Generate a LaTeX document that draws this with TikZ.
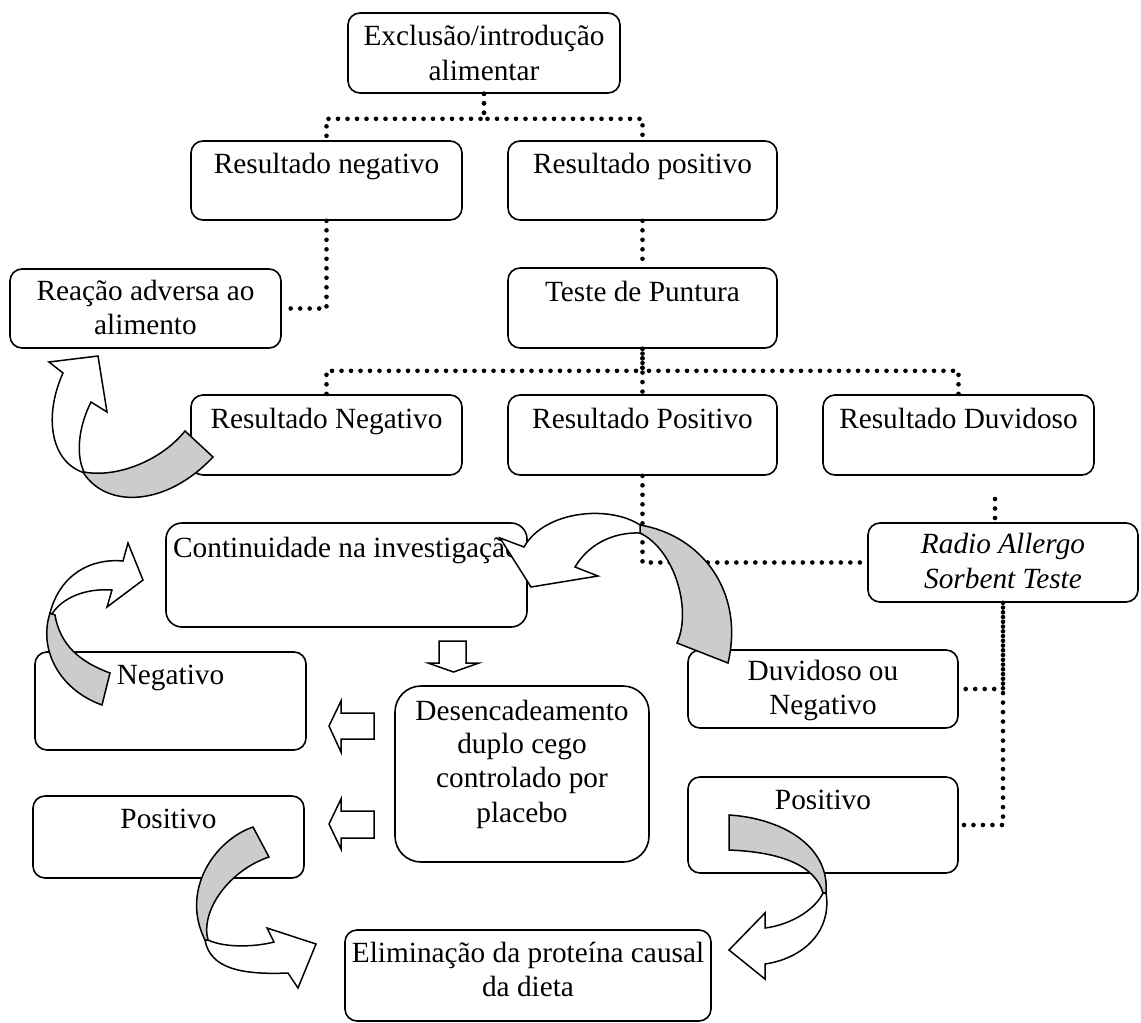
\documentclass[tikz,border=0pt]{standalone}
\usepackage{fontspec}
\setmainfont{Liberation Serif}
\definecolor{ribbon}{RGB}{204,204,204}
\newcommand{\lbl}[4]{\node[txt] (#1) at (#2,#3) {#4};}
\begin{document}
\begin{tikzpicture}[x=1pt,y=-1pt,
  box/.style={draw, line width=1.6pt, rounded corners=12pt, inner sep=0pt},
  txt/.style={anchor=base, inner sep=0pt, font=\fontsize{29.3}{34}\selectfont},
  dots/.style={line width=4.6pt, line cap=round, dash pattern=on 0pt off 9.5pt},
  arrw/.style={draw, line width=1.5pt, fill=white, line join=miter},
  arrg/.style={draw, line width=1.5pt, fill=ribbon, line join=miter},
]
\useasboundingbox (0,0) rectangle (1141,1023);

% boxes
\node[box, minimum width=272pt, minimum height=80pt] (excl) at (484,53) {};
\node[box, minimum width=271pt, minimum height=79pt] (rneg) at (326.5,180.5) {};
\node[box, minimum width=269pt, minimum height=79pt] (rpos) at (642.5,180.5) {};
\node[box, minimum width=271pt, minimum height=79pt] (reac) at (145.5,308.5) {};
\node[box, minimum width=269pt, minimum height=80pt] (teste) at (642.5,308) {};
\node[box, minimum width=271pt, minimum height=80pt] (rNeg) at (326.5,435) {};
\node[box, minimum width=269pt, minimum height=80pt] (rPos) at (642.5,435) {};
\node[box, minimum width=271pt, minimum height=80pt] (rDuv) at (958.5,435) {};
\node[box, rounded corners=16pt, minimum width=361pt, minimum height=104pt] (cont) at (346.5,575) {};
\node[box, minimum width=270pt, minimum height=79pt] (rast) at (1003,562.5) {};
\node[box, minimum width=271pt, minimum height=98pt] (negL) at (170.5,701) {};
\node[box, minimum width=271pt, minimum height=82pt] (posL) at (168.5,837) {};
\node[box, rounded corners=26pt, minimum width=254pt, minimum height=176pt] (des) at (522,774) {};
\node[box, minimum width=270pt, minimum height=78pt] (dneg) at (823,689) {};
\node[box, minimum width=270pt, minimum height=96pt] (posR) at (823,825) {};
\node[box, minimum width=366pt, minimum height=91pt] (elim) at (528,975.5) {};

% texts
\lbl{t1a}{484}{45}{Exclusão/introdução}
\lbl{t1b}{484}{80}{alimentar}
\lbl{t2}{326.5}{173}{Resultado negativo}
\lbl{t3}{642.5}{173}{Resultado positivo}
\lbl{t4a}{145.5}{300}{Reação adversa ao}
\lbl{t4b}{145.5}{334}{alimento}
\lbl{t5}{642.5}{301}{Teste de Puntura}
\lbl{t6}{326.5}{428}{Resultado Negativo}
\lbl{t7}{642.5}{428}{Resultado Positivo}
\lbl{t8}{958.5}{428}{Resultado Duvidoso}
\node[txt, anchor=base west] (t9) at (173,557) {Continuidade na investigação};
\lbl{t10a}{1003}{553}{\itshape Radio Allergo}
\lbl{t10b}{1003}{588}{\itshape Sorbent Teste}
\lbl{t11}{170.5}{684}{Negativo}
\lbl{t12}{168.5}{828}{Positivo}
\lbl{t13a}{522}{720}{Desencadeamento}
\lbl{t13b}{522}{753}{duplo cego}
\lbl{t13c}{522}{787}{controlado por}
\lbl{t13d}{522}{822}{placebo}
\lbl{t14a}{823}{680}{Duvidoso ou}
\lbl{t14b}{823}{714}{Negativo}
\lbl{t15}{823}{809}{Positivo}
\lbl{t16a}{528}{962}{Eliminação da proteína causal}
\lbl{t16b}{528}{996}{da dieta}

% dotted connectors
\draw[dots] (excl.south) -- ++(0,25) -| (rneg.north);
\draw[dots] (excl.south) -- ++(0,25) -| (rpos.north);
\draw[dots] (rneg.south) |- (reac.east);
\draw[dots] (rpos.south) -- (teste.north);
\draw[dots] (teste.south) -- ++(0,22) -| (rNeg.north);
\draw[dots] (teste.south) -- ++(0,22) -| (rDuv.north);
\draw[dots, dash phase=4.75pt] (teste.south) -- (rPos.north);
\draw[dots] (rPos.south) |- (rast.west);
\coordinate (q1) at (995,499);
\coordinate (q2) at (995,519);
\draw[dots] (q1) -- (q2);
\draw[dots] (rast.south) |- (dneg.east);
\draw[dots, dash phase=4.75pt] (rast.south) |- (posR.east);

% straight block arrows
\draw[arrw] (439,641) -- (466,641) -- (466,663) -- (479,663) -- (453.5,672) -- (428,663) -- (439,663) -- cycle;
\draw[arrw] (374,713) -- (341,713) -- (341,701) -- (329,726) -- (341,752) -- (341,739) -- (374,739) -- cycle;
\draw[arrw] (374,811) -- (341,811) -- (341,799) -- (329,824) -- (341,849) -- (341,838) -- (374,838) -- cycle;

% curved arrow A (to Reacao)
\draw[arrg] (83,472) .. controls (105,508) and (165,508) .. (213,457) -- (185,431) .. controls (160,462) and (115,478) .. (84,472) -- cycle;
\draw[arrw] (63,373) -- (49,362) -- (98,356) -- (107,412) -- (91,402) .. controls (78,428) and (76,455) .. (84,472) -- (82,472) .. controls (50,460) and (44,415) .. (63,373) -- cycle;

% curved arrow B (Negativo -> Continuidade)
\draw[arrg] (50,613) .. controls (38,650) and (60,690) .. (102,705) -- (110,673) .. controls (80,662) and (60,645) .. (55,615) -- cycle;
\draw[arrw] (123,561) -- (128,543) -- (143,580) -- (107,607) -- (112,590) .. controls (85,588) and (62,598) .. (52,614) -- (50,613) .. controls (60,575) and (90,558) .. (123,561) -- cycle;

% curved arrow C (Duvidoso ou Negativo -> Continuidade)
\draw[arrg] (640,525) .. controls (700,535) and (745,590) .. (728,663) -- (677,643) .. controls (692,610) and (675,550) .. (640,533) -- cycle;
\draw[arrw] (500,538) -- (524,547) .. controls (545,510) and (610,505) .. (640,525) -- (640,533) .. controls (612,532) and (588,545) .. (575,567) -- (598,576) -- (531,587) -- cycle;

% curved arrow D (Positivo left -> Eliminacao)
\draw[arrg] (253,827) .. controls (215,840) and (180,890) .. (205,940) -- (208,940) .. controls (200,910) and (230,870) .. (269,857) -- cycle;
\draw[arrw] (208,940) .. controls (225,948) and (255,947) .. (274,942) -- (267,928) -- (316,944) -- (298,988) -- (288,973) .. controls (240,975) and (210,968) .. (205,940) -- cycle;

% curved arrow E (Positivo right -> Eliminacao)
\draw[arrg] (729,815) .. controls (780,818) and (830,845) .. (826,893) -- (823,893) .. controls (815,865) and (780,852) .. (729,850) -- cycle;
\draw[arrw] (826,893) .. controls (832,930) and (805,958) .. (765,964) -- (765,979) -- (729,950) -- (765,913) -- (765,928) .. controls (790,925) and (815,910) .. (823,893) -- cycle;
\end{tikzpicture}
\end{document}
